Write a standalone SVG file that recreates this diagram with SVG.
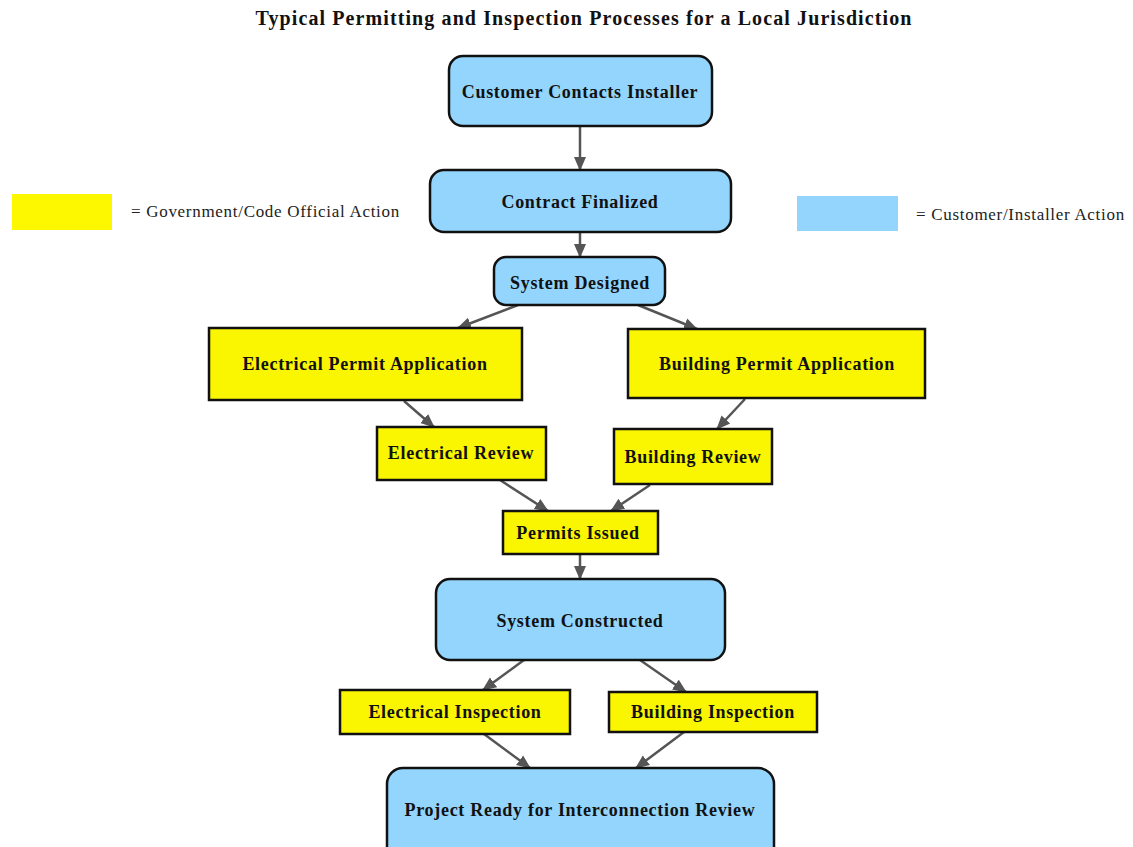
<svg xmlns="http://www.w3.org/2000/svg" width="1133" height="847" viewBox="0 0 1133 847">
<style>
.t{font-family:"Liberation Serif","DejaVu Serif",serif;font-weight:bold;font-size:18px;letter-spacing:0.7px;fill:#111;text-anchor:middle;dominant-baseline:central}
.ti{font-size:20px;letter-spacing:1.1px}
.lg{font-family:"Liberation Serif","DejaVu Serif",serif;font-size:17px;letter-spacing:0.7px;fill:#222;dominant-baseline:central}
.b{fill:#93d5fd;stroke:#111;stroke-width:2.5}
.y{fill:#faf500;stroke:#111;stroke-width:2.5}
.c{stroke:#555;stroke-width:2.5;fill:none;marker-end:url(#ah)}
</style>
<defs>
<marker id="ah" markerUnits="userSpaceOnUse" markerWidth="14" markerHeight="14" viewBox="0 0 14 14" refX="13" refY="7" orient="auto">
<path d="M0,1 L14,7 L0,13 Z" fill="#555"/>
</marker>
</defs>
<rect width="1133" height="847" fill="#fff"/>
<text x="584" y="18" class="t ti">Typical Permitting and Inspection Processes for a Local Jurisdiction</text>
<g id="legend-gov">
<rect x="12" y="194" width="100" height="36" fill="#fdf700"/>
<text x="131" y="211" class="lg">= Government/Code Official Action</text>
</g>
<g id="legend-cust">
<rect x="797" y="196" width="101" height="35" fill="#93d5fd"/>
<text x="916" y="214" class="lg">= Customer/Installer Action</text>
</g>
<g id="connectors">
<line class="c" x1="580" y1="126" x2="580" y2="170"/>
<line class="c" x1="580" y1="232" x2="580" y2="257"/>
<line class="c" x1="518" y1="305" x2="458" y2="328"/>
<line class="c" x1="638" y1="305" x2="697" y2="329"/>
<line class="c" x1="404" y1="401" x2="434" y2="427"/>
<line class="c" x1="745" y1="399" x2="717" y2="429"/>
<line class="c" x1="500" y1="480" x2="548" y2="511"/>
<line class="c" x1="650" y1="485" x2="611" y2="511"/>
<line class="c" x1="580" y1="554" x2="580" y2="579"/>
<line class="c" x1="524" y1="660" x2="483" y2="690"/>
<line class="c" x1="640" y1="660" x2="686" y2="692"/>
<line class="c" x1="484" y1="734" x2="530" y2="768"/>
<line class="c" x1="684" y1="732" x2="636" y2="768"/>
</g>
<g id="n1"><rect class="b" x="449" y="56" width="263" height="70" rx="14"/><text class="t" x="580" y="92">Customer Contacts Installer</text></g>
<g id="n2"><rect class="b" x="430" y="170" width="301" height="62" rx="14"/><text class="t" x="580" y="202">Contract Finalized</text></g>
<g id="n3"><rect class="b" x="494" y="257" width="171" height="48" rx="12"/><text class="t" x="580" y="283">System Designed</text></g>
<g id="n4"><rect class="y" x="209" y="328" width="313" height="72"/><text class="t" x="365" y="364">Electrical Permit Application</text></g>
<g id="n5"><rect class="y" x="628" y="329" width="297" height="69"/><text class="t" x="777" y="364">Building Permit Application</text></g>
<g id="n6"><rect class="y" x="377" y="427" width="169" height="53"/><text class="t" x="461" y="453">Electrical Review</text></g>
<g id="n7"><rect class="y" x="614" y="429" width="158" height="55"/><text class="t" x="693" y="457">Building Review</text></g>
<g id="n8"><rect class="y" x="503" y="511" width="155" height="43"/><text class="t" x="578" y="533">Permits Issued</text></g>
<g id="n9"><rect class="b" x="436" y="579" width="289" height="81" rx="14"/><text class="t" x="580" y="621">System Constructed</text></g>
<g id="n10"><rect class="y" x="340" y="690" width="230" height="44"/><text class="t" x="455" y="712">Electrical Inspection</text></g>
<g id="n11"><rect class="y" x="609" y="692" width="208" height="40"/><text class="t" x="713" y="712">Building Inspection</text></g>
<g id="n12"><rect class="b" x="387" y="768" width="387" height="100" rx="16"/><text class="t" x="580" y="810">Project Ready for Interconnection Review</text></g>
</svg>
